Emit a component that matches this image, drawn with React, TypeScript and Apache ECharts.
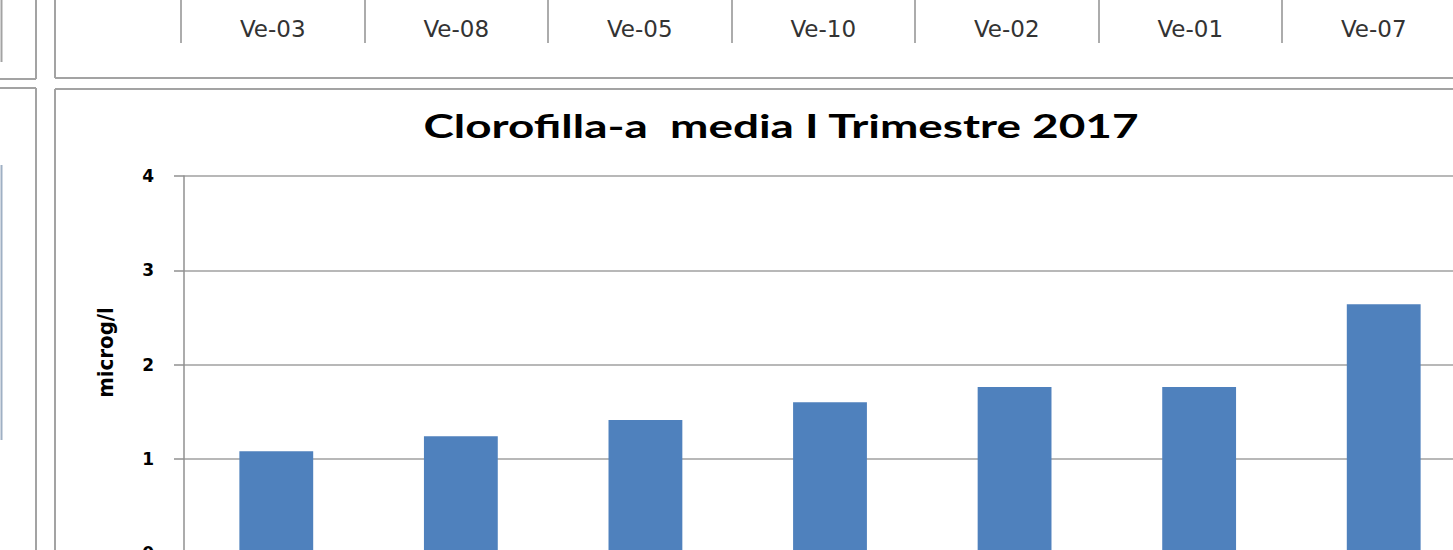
import * as echarts from "echarts";
import { useEffect, useRef } from "react";

// stazioni (ordinate per valore crescente)
const stations = ["Ve-03", "Ve-08", "Ve-05", "Ve-10", "Ve-02", "Ve-01", "Ve-07"];
// clorofilla-a media, microg/l
const chlorophyll = [1.08, 1.24, 1.41, 1.6, 1.76, 1.76, 2.64];
const yTicks = [0, 1, 2, 3, 4];

const frameColor = "#a3a3a3";
const gridColor = "#a0a0a0";
const barColor = "#4f81bd";

function frameLine(x1: number, y1: number, x2: number, y2: number, color = frameColor) {
  return {
    type: "line",
    silent: true,
    shape: { x1, y1, x2, y2 },
    style: { stroke: color, lineWidth: 2 },
  };
}

export default function App() {
  const chartRef = useRef<HTMLDivElement>(null);

  useEffect(() => {
    const chart = echarts.init(chartRef.current, null, { renderer: "svg" });
    chart.setOption(getChartOption());
    return () => {
      chart.dispose();
    };
  }, []);

  return (
    <div
      ref={chartRef}
      style={{ position: "absolute", left: 0, top: 0, width: "1453px", height: "550px", background: "#fff" }}
    />
  );
}

function getChartOption() {
  return {
    animation: false,
    backgroundColor: "#ffffff",
    graphic: [
      // cornici dei grafici vicini
      frameLine(1.5, 0, 1.5, 62),
      frameLine(36, 0, 36, 79),
      frameLine(0, 79, 36, 79),
      frameLine(0, 88, 36, 88),
      frameLine(36, 88, 36, 550),
      frameLine(1.5, 165, 1.5, 440, "#9fb0c4"),
      frameLine(55, 0, 55, 78),
      frameLine(55, 78, 1453, 78),
      frameLine(55, 89, 1453, 89),
      frameLine(55, 89, 55, 550),
      {
        type: "text",
        x: 781,
        y: 126,
        scaleX: 1.39,
        style: {
          text: "Clorofilla-a  media I Trimestre 2017",
          fontFamily: "Lato",
          fontWeight: "bold",
          fontSize: 33,
          fill: "#000",
          textAlign: "center",
          textVerticalAlign: "middle",
        },
      },
    ],
    grid: [
      // grafico precedente: se ne vede solo l'asse delle categorie
      { left: 181, top: -50, width: 1284.5, height: 50, outerBoundsMode: "none" },
      { left: 184, top: 176, width: 1292, height: 377, outerBoundsMode: "none" },
    ],
    xAxis: [
      {
        type: "category",
        gridIndex: 0,
        data: stations,
        axisLine: { show: false },
        axisTick: { show: true, length: 43, lineStyle: { color: "#909090", width: 1.5 } },
        axisLabel: {
          margin: 29,
          verticalAlign: "middle",
          fontFamily: "DejaVu Sans",
          fontSize: 23,
          color: "#333",
        },
      },
      {
        type: "category",
        gridIndex: 1,
        data: stations,
        axisLine: { lineStyle: { color: "#909090", width: 1.5 } },
        axisTick: { length: 9, lineStyle: { color: "#909090" } },
        axisLabel: { show: false },
      },
    ],
    yAxis: [
      { type: "value", gridIndex: 0, show: false },
      {
        type: "value",
        gridIndex: 1,
        min: yTicks[0],
        max: yTicks[yTicks.length - 1],
        interval: 1,
        name: "microg/l",
        nameLocation: "middle",
        nameGap: 68,
        nameTextStyle: {
          fontFamily: "'DejaVu Sans Condensed', 'Liberation Sans', sans-serif",
          fontWeight: "bold",
          fontSize: 22,
          color: "#000",
          padding: [0, 0, 0, 24],
        },
        axisLine: { show: true, lineStyle: { color: "#909090", width: 1.5 } },
        axisTick: { show: true, length: 10, lineStyle: { color: "#909090", width: 1.5 } },
        axisLabel: {
          margin: 30,
          fontFamily: "DejaVu Sans",
          fontWeight: "bold",
          fontSize: 17,
          color: "#000",
        },
        splitLine: { lineStyle: { color: gridColor, width: 1.5 } },
      },
    ],
    series: [
      {
        type: "bar",
        xAxisIndex: 1,
        yAxisIndex: 1,
        barWidth: "40%",
        data: chlorophyll,
        itemStyle: { color: barColor },
      },
    ],
  };
}
